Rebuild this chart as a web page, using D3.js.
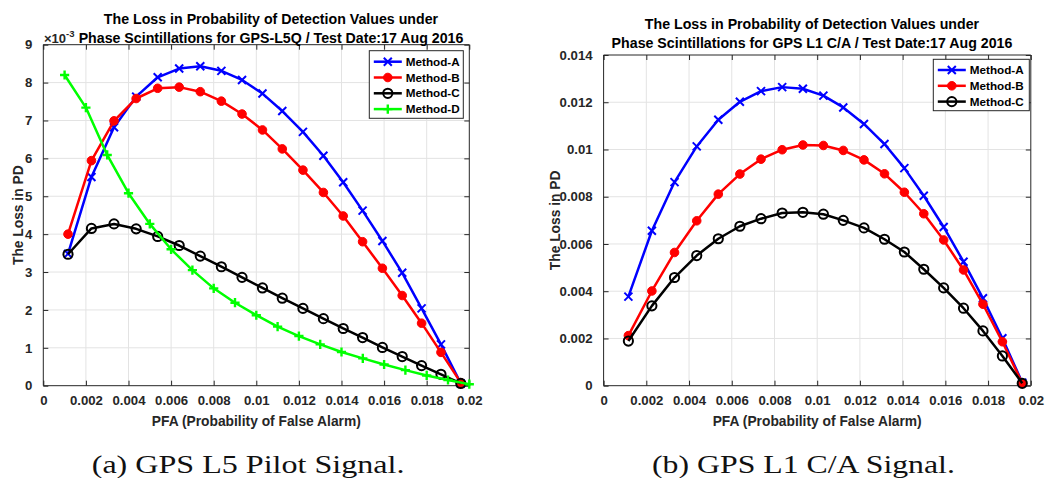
<!DOCTYPE html>
<html>
<head>
<meta charset="utf-8">
<script src="https://cdn.jsdelivr.net/npm/d3@7"></script>
<style>
  html, body { margin: 0; padding: 0; background: #fff; }
  svg { display: block; }
  .sans { font-family: "Liberation Sans", Arial, Helvetica, sans-serif; font-weight: bold; }
</style>
</head>
<body>
<svg id="chart" width="1045" height="478"></svg>
<script>
// PFA values at which methods A, B and C were evaluated
const pfaABC = [0.00116, 0.00226, 0.00332, 0.00436, 0.00537, 0.00638, 0.00737, 0.00836, 0.00933, 0.01029,
                0.01122, 0.01219, 0.01315, 0.01408, 0.01499, 0.01592, 0.01685, 0.01776, 0.01867, 0.01960];
// PFA values for method D (regular grid)
const pfaD = [0.001, 0.002, 0.003, 0.004, 0.005, 0.006, 0.007, 0.008, 0.009, 0.010,
              0.011, 0.012, 0.013, 0.014, 0.015, 0.016, 0.017, 0.018, 0.019, 0.020];

// GPS L5 pilot (L5Q) loss in PD, x 10^-3
const l5MethodA = [3.48, 5.51, 6.82, 7.63, 8.14, 8.37, 8.43, 8.31, 8.07, 7.71,
                   7.25, 6.70, 6.07, 5.37, 4.62, 3.82, 2.98, 2.04, 1.09, 0.06];
const l5MethodB = [4.00, 5.94, 6.99, 7.58, 7.85, 7.88, 7.76, 7.51, 7.17, 6.75,
                   6.25, 5.69, 5.10, 4.48, 3.80, 3.10, 2.38, 1.65, 0.88, 0.08];
const l5MethodC = [3.47, 4.15, 4.27, 4.14, 3.94, 3.70, 3.42, 3.14, 2.86, 2.58,
                   2.31, 2.04, 1.77, 1.51, 1.27, 1.01, 0.77, 0.53, 0.30, 0.06];
const l5MethodD = [8.20, 7.34, 6.09, 5.08, 4.27, 3.60, 3.05, 2.57, 2.19, 1.86,
                   1.56, 1.31, 1.09, 0.89, 0.72, 0.56, 0.41, 0.27, 0.15, 0.04];

// GPS L1 C/A loss in PD
const l1MethodA = [0.00377, 0.00656, 0.00862, 0.01013, 0.01126, 0.01202, 0.01247, 0.01264, 0.01257, 0.01228,
                   0.01178, 0.01108, 0.01023, 0.00921, 0.00804, 0.00672, 0.00525, 0.00370, 0.00201, 0.00013];
const l1MethodB = [0.00212, 0.00401, 0.00564, 0.00698, 0.00811, 0.00896, 0.00959, 0.00999, 0.01019, 0.01017,
                   0.00996, 0.00956, 0.00897, 0.00819, 0.00728, 0.00617, 0.00490, 0.00345, 0.00186, 0.00010];
const l1MethodC = [0.00189, 0.00338, 0.00458, 0.00551, 0.00622, 0.00675, 0.00707, 0.00731, 0.00734, 0.00726,
                   0.00700, 0.00668, 0.00620, 0.00566, 0.00493, 0.00414, 0.00328, 0.00232, 0.00126, 0.00010];

const xTicks = [0, 0.002, 0.004, 0.006, 0.008, 0.01, 0.012, 0.014, 0.016, 0.018, 0.02];
const l5YTicks = [0, 1, 2, 3, 4, 5, 6, 7, 8, 9];
const l1YTicks = [0, 0.002, 0.004, 0.006, 0.008, 0.01, 0.012, 0.014];

const methodStyle = {
  "Method-A": { color: "#0000ff", marker: "x" },
  "Method-B": { color: "#ff0000", marker: "dot" },
  "Method-C": { color: "#000000", marker: "ring" },
  "Method-D": { color: "#00ff00", marker: "plus" }
};

const AX = "#262626";
const GRID = "#e3e3e3";
const svg = d3.select("#chart");

function drawMarker(g, kind, color) {
  if (kind === "x") {
    g.append("path").attr("d", "M-4,-4L4,4M-4,4L4,-4")
      .attr("stroke", color).attr("stroke-width", 2).attr("fill", "none");
  } else if (kind === "plus") {
    g.append("path").attr("d", "M-4.6,0H4.6M0,-4.6V4.6")
      .attr("stroke", color).attr("stroke-width", 2.4).attr("fill", "none");
  } else if (kind === "dot") {
    g.append("circle").attr("r", 4.3).attr("fill", color).attr("stroke", color).attr("stroke-width", 1);
  } else {
    g.append("circle").attr("r", 4.6).attr("fill", "none").attr("stroke", color).attr("stroke-width", 2);
  }
}

function panel(cfg) {
  const x = d3.scaleLinear().domain([0, 0.02]).range([cfg.left, cfg.right]);
  const y = d3.scaleLinear().domain(cfg.yDomain).range([cfg.bottom, cfg.top]);
  const g = svg.append("g");

  // grid
  g.append("g").selectAll("line").data(xTicks.slice(1, -1)).join("line")
    .attr("x1", d => x(d)).attr("x2", d => x(d)).attr("y1", cfg.top).attr("y2", cfg.bottom)
    .attr("stroke", GRID).attr("stroke-width", 1);
  g.append("g").selectAll("line").data(cfg.yTicks.slice(1, -1)).join("line")
    .attr("x1", cfg.left).attr("x2", cfg.right).attr("y1", d => y(d)).attr("y2", d => y(d))
    .attr("stroke", GRID).attr("stroke-width", 1);

  // axes with inward ticks on all four sides
  const fmtX = d => d === 0 ? "0" : String(+d.toFixed(3));
  const bottomAx = d3.axisBottom(x).tickValues(xTicks).tickSize(-5).tickFormat(fmtX);
  const topAx = d3.axisTop(x).tickValues(xTicks).tickSize(-5).tickFormat("");
  const leftAx = d3.axisLeft(y).tickValues(cfg.yTicks).tickSize(-5).tickPadding(11).tickFormat(cfg.yFormat);
  const rightAx = d3.axisRight(y).tickValues(cfg.yTicks).tickSize(-5).tickFormat("");
  const axes = [
    g.append("g").attr("transform", `translate(0,${cfg.bottom})`).call(bottomAx),
    g.append("g").attr("transform", `translate(0,${cfg.top})`).call(topAx),
    g.append("g").attr("transform", `translate(${cfg.left},0)`).call(leftAx),
    g.append("g").attr("transform", `translate(${cfg.right},0)`).call(rightAx)
  ];
  axes.forEach((a, i) => {
    a.select(".domain").attr("stroke", AX).attr("stroke-width", 1)
      .attr("d", i < 2 ? `M${cfg.left},0H${cfg.right}` : `M0,${cfg.top}V${cfg.bottom}`);
    a.selectAll(".tick line").attr("stroke", AX).attr("stroke-width", 1);
    a.selectAll(".tick text").attr("class", "sans").attr("font-size", 13.2).attr("fill", AX);
  });
  axes[0].selectAll(".tick text").attr("dy", "0.71em").attr("y", 10);

  // series
  const clipId = "clip" + Math.round(cfg.left);
  g.append("clipPath").attr("id", clipId).append("rect")
    .attr("x", cfg.left - 8).attr("y", cfg.top - 8)
    .attr("width", cfg.right - cfg.left + 16).attr("height", cfg.bottom - cfg.top + 16);
  cfg.series.forEach(s => {
    const st = methodStyle[s.name];
    const pts = s.x.map((xv, i) => [xv, s.y[i]]);
    const line = d3.line().x(d => x(d[0])).y(d => y(d[1]));
    const sg = g.append("g").attr("clip-path", `url(#${clipId})`);
    sg.append("path").attr("d", line(pts)).attr("fill", "none")
      .attr("stroke", st.color).attr("stroke-width", 2.5).attr("stroke-linejoin", "round");
    pts.forEach(p => {
      const m = sg.append("g").attr("transform", `translate(${x(p[0])},${y(p[1])})`);
      drawMarker(m, st.marker, st.color);
    });
  });

  // titles and labels
  cfg.title.forEach((t, i) => {
    g.append("text").attr("class", "sans").attr("font-size", 14.2).attr("fill", "#000")
      .attr("text-anchor", "middle").attr("x", cfg.titleX).attr("y", cfg.titleY[i]).text(t);
  });
  g.append("text").attr("class", "sans").attr("font-size", 13.8).attr("fill", AX)
    .attr("text-anchor", "middle").attr("x", (cfg.left + cfg.right) / 2).attr("y", 425.5)
    .text("PFA (Probability of False Alarm)");
  g.append("text").attr("class", "sans").attr("font-size", 13.8).attr("fill", AX)
    .attr("text-anchor", "middle")
    .attr("transform", `translate(${cfg.yLabelX},${(cfg.top + cfg.bottom) / 2}) rotate(-90)`)
    .text("The Loss in PD");

  // legend
  const lg = g.append("g");
  lg.append("rect").attr("x", cfg.legend.x).attr("y", cfg.legend.y)
    .attr("width", cfg.legend.w).attr("height", cfg.legend.h)
    .attr("fill", "#fff").attr("stroke", AX).attr("stroke-width", 1);
  cfg.series.forEach((s, i) => {
    const st = methodStyle[s.name];
    const yy = cfg.legend.y + cfg.legend.first + i * cfg.legend.step;
    const x0 = cfg.legend.x + 4.5, x1 = x0 + 28;
    lg.append("line").attr("x1", x0).attr("x2", x1).attr("y1", yy).attr("y2", yy)
      .attr("stroke", st.color).attr("stroke-width", 2.5);
    drawMarker(lg.append("g").attr("transform", `translate(${(x0 + x1) / 2},${yy})`), st.marker, st.color);
    lg.append("text").attr("class", "sans").attr("font-size", 11.7).attr("fill", "#000")
      .attr("x", x1 + 4).attr("y", yy).attr("dy", "0.35em").text(s.name);
  });
  return g;
}

const left = panel({
  left: 43.3, right: 469.3, top: 44.7, bottom: 385.7,
  yDomain: [0, 9], yTicks: l5YTicks, yFormat: d => String(d),
  title: ["The Loss in Probability of Detection Values under",
          "Phase Scintillations for GPS-L5Q / Test Date:17 Aug 2016"],
  titleX: 271, titleY: [24.3, 42.6], yLabelX: 23.3,
  legend: { x: 369.3, y: 50.7, w: 94, h: 67.6, first: 11, step: 15.8 },
  series: [
    { name: "Method-A", x: pfaABC, y: l5MethodA },
    { name: "Method-B", x: pfaABC, y: l5MethodB },
    { name: "Method-C", x: pfaABC, y: l5MethodC },
    { name: "Method-D", x: pfaD, y: l5MethodD }
  ]
});

// exponent label of the L5 y axis
const expo = left.append("text").attr("class", "sans").attr("fill", AX).attr("x", 44).attr("y", 42.6);
expo.append("tspan").attr("font-size", 13).text("\u00d710");
expo.append("tspan").attr("font-size", 9.5).attr("dy", -5.5).text("-3");

panel({
  left: 603.6, right: 1030.8, top: 55, bottom: 385.7,
  yDomain: [0, 0.014], yTicks: l1YTicks, yFormat: d => d === 0 ? "0" : String(+d.toFixed(3)),
  title: ["The Loss in Probability of Detection Values under",
          "Phase Scintillations for GPS L1 C/A / Test Date:17 Aug 2016"],
  titleX: 812, titleY: [29.3, 47.6], yLabelX: 560,
  legend: { x: 933.3, y: 59.3, w: 96, h: 51.4, first: 10.7, step: 15.8 },
  series: [
    { name: "Method-A", x: pfaABC, y: l1MethodA },
    { name: "Method-B", x: pfaABC, y: l1MethodB },
    { name: "Method-C", x: pfaABC, y: l1MethodC }
  ]
});

// sub-figure captions, stretched horizontally to the wide roman face of the document
const captions = [
  { text: "(a) GPS L5 Pilot Signal.", x: 91.7, w: 313 },
  { text: "(b) GPS L1 C/A Signal.", x: 652, w: 303 }
];
captions.forEach(c => {
  const t = svg.append("text").attr("x", 0).attr("y", 0)
    .attr("font-family", "'Liberation Serif', 'Times New Roman', serif")
    .attr("font-size", 25.5).attr("fill", "#111")
    .text(c.text);
  const measured = t.node().getComputedTextLength();
  const sx = measured > 0 ? c.w / measured : 1;
  t.attr("transform", `translate(${c.x},472.7) scale(${sx},1)`);
});
</script>
</body>
</html>
